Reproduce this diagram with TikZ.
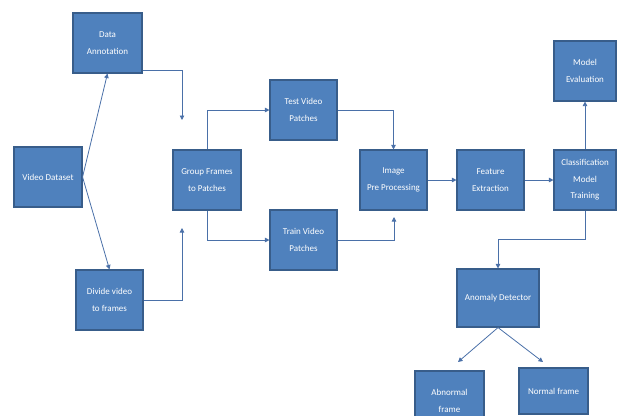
\documentclass[tikz,border=0pt]{standalone}
\usepackage{fontspec}
\setmainfont{Carlito}
\usetikzlibrary{arrows.meta}
\definecolor{boxfill}{HTML}{4F81BD}
\definecolor{boxline}{HTML}{385D8A}
\definecolor{conn}{HTML}{4A70A8}
\begin{document}
\begin{tikzpicture}[x=1pt,y=-1pt,
  blk/.style={rectangle,draw=boxline,line width=1.1pt,fill=boxfill,text=white,align=center,
    inner sep=0pt,font=\fontsize{9}{16.5}\selectfont},
  conn/.style={draw=conn,line width=0.8pt,-{Triangle[width=4.5pt,length=4.5pt]}}]
\useasboundingbox (0,0) rectangle (617,415);
\clip (0,0) rectangle (617,415);
\node[blk,minimum width=69pt,minimum height=60pt] (ann) at (107.5,43) {Data\\Annotation};
\node[blk,minimum width=68pt,minimum height=60pt] (vds) at (48,177) {Video Dataset};
\node[blk,minimum width=67pt,minimum height=60pt] (div) at (109.5,300) {Divide video\\to frames};
\node[blk,minimum width=68pt,minimum height=60pt] (grp) at (207,180) {Group Frames\\to Patches};
\node[blk,minimum width=67pt,minimum height=60pt] (test) at (303.5,110) {Test Video\\Patches};
\node[blk,minimum width=67pt,minimum height=60pt] (train) at (303.5,240) {Train Video\\Patches};
\node[blk,minimum width=67pt,minimum height=60pt] (img) at (393.5,180) {Image\\Pre Processing};
\node[blk,minimum width=67pt,minimum height=60pt] (feat) at (490.5,180) {Feature\\Extraction};
\node[blk,minimum width=62pt,minimum height=60pt] (cls) at (585,180) {Classification\\Model\\Training};
\node[blk,minimum width=62pt,minimum height=60pt] (eval) at (585,71) {Model\\Evaluation};
\node[blk,minimum width=82pt,minimum height=58pt] (anom) at (498,298) {Anomaly Detector};
\node[blk,minimum width=69pt,minimum height=60pt] (abn) at (449.5,401) {Abnormal\\frame};
\node[blk,minimum width=69pt,minimum height=46pt] (norm) at (553.5,391) {Normal frame};
\coordinate (gin1) at (182,120);
\coordinate (gin2) at (182,228);
\coordinate (imgb) at (394,217);
\coordinate (cturn) at (498,239);
\coordinate (abnt) at (458,362);
\coordinate (normt) at (543,362);
\draw[conn] (vds.east) -- (ann.south);
\draw[conn] (vds.east) -- (div.north);
\draw[conn] ([yshift=3pt]ann.south east) -| (gin1);
\draw[conn] (div.east) -| (gin2);
\draw[conn] (grp.north) |- (test.west);
\draw[conn] (grp.south) |- (train.west);
\draw[conn] (test.east) -| (img.north);
\draw[conn] (train.east) -| (imgb);
\draw[conn] (img) -- (feat);
\draw[conn] (feat) -- (cls);
\draw[conn] (cls) -- (eval);
\draw[conn] (cls.south) |- (cturn) -- (anom.north);
\draw[conn] (anom.south) -- (abnt);
\draw[conn] (anom.south) -- (normt);
\end{tikzpicture}
\end{document}
